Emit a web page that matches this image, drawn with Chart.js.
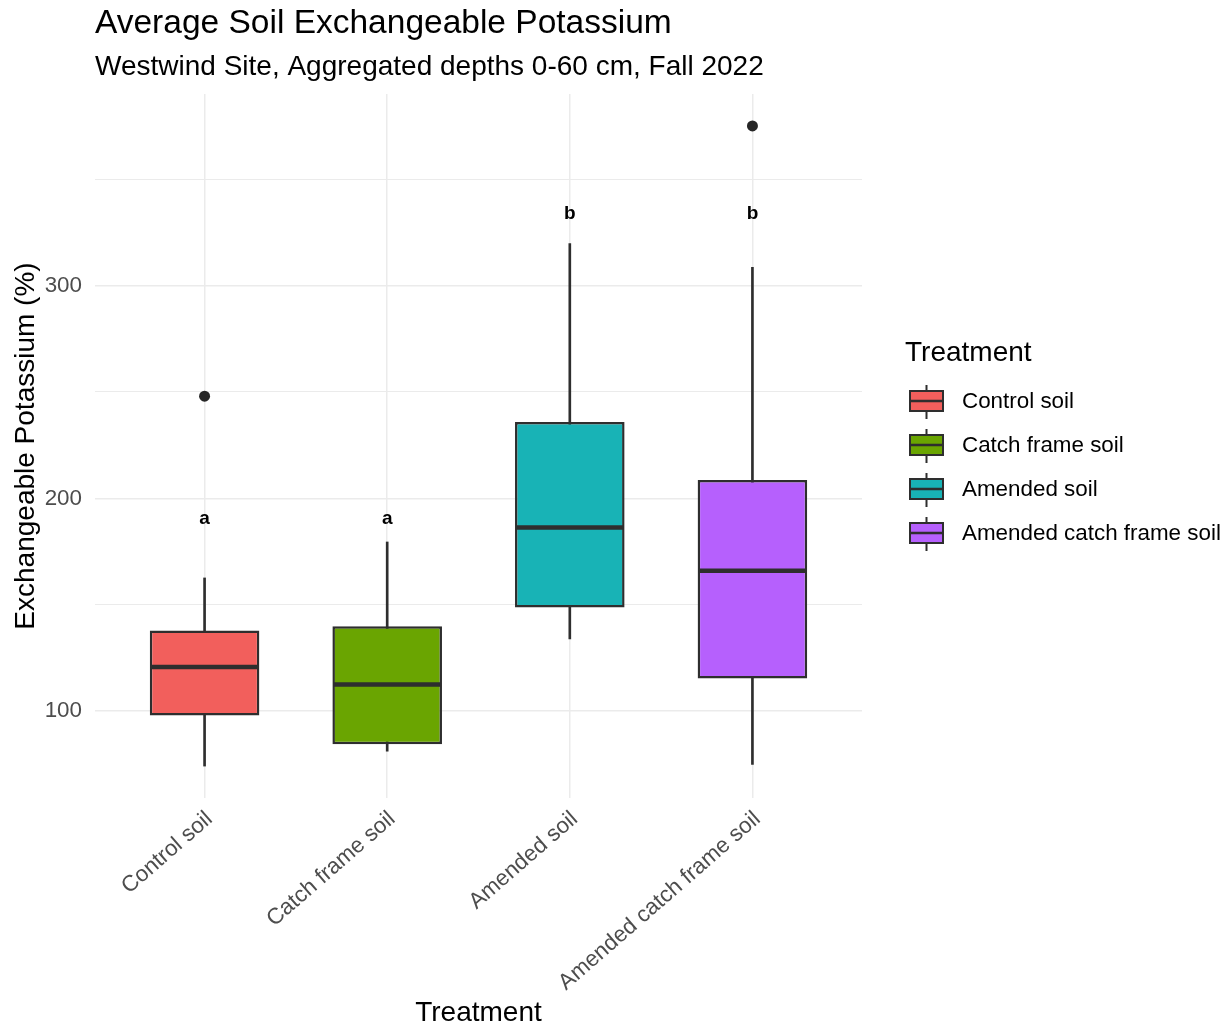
<!DOCTYPE html>
<html>
<head>
<meta charset="utf-8">
<title>Average Soil Exchangeable Potassium</title>
<script src="https://cdn.jsdelivr.net/npm/chart.js@4.4.1/dist/chart.umd.min.js"></script>
<style>
  html, body { margin: 0; padding: 0; background: #ffffff; }
  #wrap { position: relative; width: 1223px; height: 1024px; }
  #chart { position: absolute; left: 0; top: 0; }
  #legend { position: absolute; left: 0; top: 0; width: 0; height: 0; }
  #legend .lg-title, #legend .lg-text {
    position: absolute;
    white-space: nowrap;
    color: #000000;
    font-family: 'Liberation Sans', Arial, Helvetica, sans-serif;
  }
  #legend .lg-title { font-size: 28px; line-height: 28px; }
  #legend .lg-text { font-size: 22.4px; line-height: 22.4px; }
  #legend canvas { position: absolute; }
</style>
</head>
<body>
<div id="wrap">
  <canvas id="chart" width="1223" height="1024"></canvas>
  <div id="legend"></div>
</div>
<script>
// Treatments along the x axis
const categories = ['Control soil', 'Catch frame soil', 'Amended soil', 'Amended catch frame soil'];
const categoryPositions = [1, 2, 3, 4];

// Box-plot summary per treatment (exchangeable K)
const whiskerLow  = [74.2, 81.2, 134.0, 75.0];
const q1          = [98.0, 84.4, 148.7, 115.3];
const medians     = [120.7, 112.5, 186.3, 166.0];
const q3          = [137.9, 139.9, 235.9, 208.6];
const whiskerHigh = [162.6, 179.5, 319.7, 308.6];
const outliers    = [248.0, null, null, 375.0];

// Compact letter display above each box
const groupLetters  = ['a', 'a', 'b', 'b'];
const letterHeights = [190.5, 190.5, 333.5, 333.5];

// Axis ticks (gridlines every 50, labels every 100)
const yTickValues = [100, 150, 200, 250, 300, 350];
const yTickLabels = ['100', '', '200', '', '300', ''];

const legendTitle = 'Treatment';
const fillColors = ['#F25F5C', '#6AA501', '#18B3B6', '#B660FD'];
const inkColor = '#2E2E2E';
const gridColor = '#EBEBEB';

Chart.defaults.font.family = "'Liberation Sans', Arial, Helvetica, sans-serif";
Chart.defaults.color = '#000000';

// Small box-plot glyph used as a legend key
function legendGlyph(fill) {
  const c = document.createElement('canvas');
  c.width = 35; c.height = 34;
  const g = c.getContext('2d');
  g.fillStyle = inkColor;
  g.fillRect(16.5, 0, 2, 34);
  g.fillStyle = fill;
  g.fillRect(1, 6, 33, 20);
  g.strokeStyle = inkColor;
  g.lineWidth = 2;
  g.strokeRect(1, 6, 33, 20);
  g.fillStyle = inkColor;
  g.fillRect(1, 14.75, 33, 2.5);
  return c;
}

// Legend built as HTML next to the plotting area
const htmlLegend = {
  id: 'htmlLegend',
  afterUpdate(chart) {
    const host = document.getElementById('legend');
    host.innerHTML = '';
    const area = chart.chartArea;
    const left = area.right + 43;
    const mid = (area.top + area.bottom) / 2;

    const title = document.createElement('div');
    title.className = 'lg-title';
    title.textContent = legendTitle;
    title.style.left = left + 'px';
    title.style.top = (mid - 108) + 'px';
    host.appendChild(title);

    categories.forEach((name, i) => {
      const rowTop = mid - 56.3 + 44 * i;
      const key = legendGlyph(fillColors[i]);
      key.style.left = (left + 4) + 'px';
      key.style.top = Math.round(rowTop - 5) + 'px';
      host.appendChild(key);

      const text = document.createElement('div');
      text.className = 'lg-text';
      text.textContent = name;
      text.style.left = (left + 57) + 'px';
      text.style.top = rowTop + 'px';
      host.appendChild(text);
    });
  }
};

// Medians and group letters drawn on top of the boxes
const boxDecorations = {
  id: 'boxDecorations',
  afterDatasetsDraw(chart) {
    const ctx = chart.ctx;
    const y = chart.scales.y;
    const boxes = chart.getDatasetMeta(1).data;
    ctx.save();
    ctx.strokeStyle = inkColor;
    ctx.lineWidth = 4.5;
    ctx.lineCap = 'butt';
    boxes.forEach((bar, i) => {
      const py = y.getPixelForValue(medians[i]);
      const half = bar.width / 2 - 1.25;
      ctx.beginPath();
      ctx.moveTo(bar.x - half, py);
      ctx.lineTo(bar.x + half, py);
      ctx.stroke();
    });
    ctx.fillStyle = '#000000';
    ctx.font = "bold 19px 'Liberation Sans', Arial, sans-serif";
    ctx.textAlign = 'center';
    ctx.textBaseline = 'middle';
    boxes.forEach((bar, i) => {
      ctx.fillText(groupLetters[i], bar.x, y.getPixelForValue(letterHeights[i]));
    });
    ctx.restore();
  }
};

const whiskerData = categoryPositions.map((x, i) => ({ x, y: [whiskerLow[i], whiskerHigh[i]] }));
const boxData = categoryPositions.map((x, i) => ({ x, y: [q1[i], q3[i]] }));
const outlierData = categoryPositions
  .map((x, i) => ({ x, y: outliers[i] }))
  .filter(p => p.y !== null);

new Chart(document.getElementById('chart'), {
  type: 'bar',
  data: {
    datasets: [
      {
        label: 'Whiskers',
        data: whiskerData,
        backgroundColor: inkColor,
        barThickness: 2,
        grouped: false,
        order: 3
      },
      {
        label: 'Boxes',
        data: boxData,
        backgroundColor: fillColors,
        borderColor: inkColor,
        borderWidth: 2.5,
        borderSkipped: false,
        barPercentage: 0.6,
        categoryPercentage: 1,
        grouped: false,
        order: 2
      },
      {
        type: 'line',
        label: 'Outliers',
        data: outlierData,
        showLine: false,
        pointRadius: 5.5,
        pointBackgroundColor: '#262626',
        pointBorderWidth: 0,
        order: 1
      }
    ]
  },
  options: {
    responsive: false,
    animation: false,
    events: [],
    layout: { padding: { left: 0, right: 361, top: 0, bottom: 0 } },
    scales: {
      x: {
        type: 'linear',
        min: 0.4,
        max: 4.6,
        offset: false,
        afterBuildTicks(scale) { scale.ticks = categoryPositions.map(v => ({ value: v })); },
        afterFit(scale) { scale.height = 226; },
        grid: { color: gridColor, lineWidth: 1.5, drawTicks: false, offset: false },
        border: { display: false },
        ticks: {
          autoSkip: false,
          minRotation: 41,
          maxRotation: 41,
          padding: 8,
          labelOffset: 5,
          color: '#4D4D4D',
          font: { size: 22.4 },
          callback: v => categories[categoryPositions.indexOf(v)] ?? ''
        },
        title: {
          display: true,
          text: 'Treatment',
          color: '#000000',
          font: { size: 28, lineHeight: 1 },
          padding: { top: 0, bottom: -3 }
        }
      },
      y: {
        min: 59.2,
        max: 390,
        afterBuildTicks(scale) { scale.ticks = yTickValues.map(v => ({ value: v })); },
        afterFit(scale) { scale.width = 95; },
        grid: {
          color: gridColor,
          lineWidth: c => (c.tick && c.tick.value % 100 === 0) ? 1.5 : 1.1,
          drawTicks: false
        },
        border: { display: false },
        ticks: {
          padding: 13,
          color: '#4D4D4D',
          font: { size: 22.4 },
          callback: v => yTickLabels[yTickValues.indexOf(v)] ?? ''
        },
        title: {
          display: true,
          text: 'Exchangeable Potassium (%)',
          color: '#000000',
          font: { size: 28, lineHeight: 1 },
          padding: { top: 12, bottom: 0 }
        }
      }
    },
    plugins: {
      tooltip: { enabled: false },
      legend: { display: false },
      title: {
        display: true,
        text: 'Average Soil Exchangeable Potassium',
        align: 'start',
        fullSize: false,
        color: '#000000',
        font: { size: 33.5, weight: 'normal', lineHeight: 1.2 },
        padding: { top: 4, bottom: 0 }
      },
      subtitle: {
        display: true,
        text: 'Westwind Site, Aggregated depths 0-60 cm, Fall 2022',
        align: 'start',
        fullSize: false,
        color: '#000000',
        font: { size: 28, weight: 'normal', lineHeight: 1.2 },
        padding: { top: 6.5, bottom: 9.7 }
      }
    }
  },
  plugins: [boxDecorations, htmlLegend]
});
</script>
</body>
</html>
